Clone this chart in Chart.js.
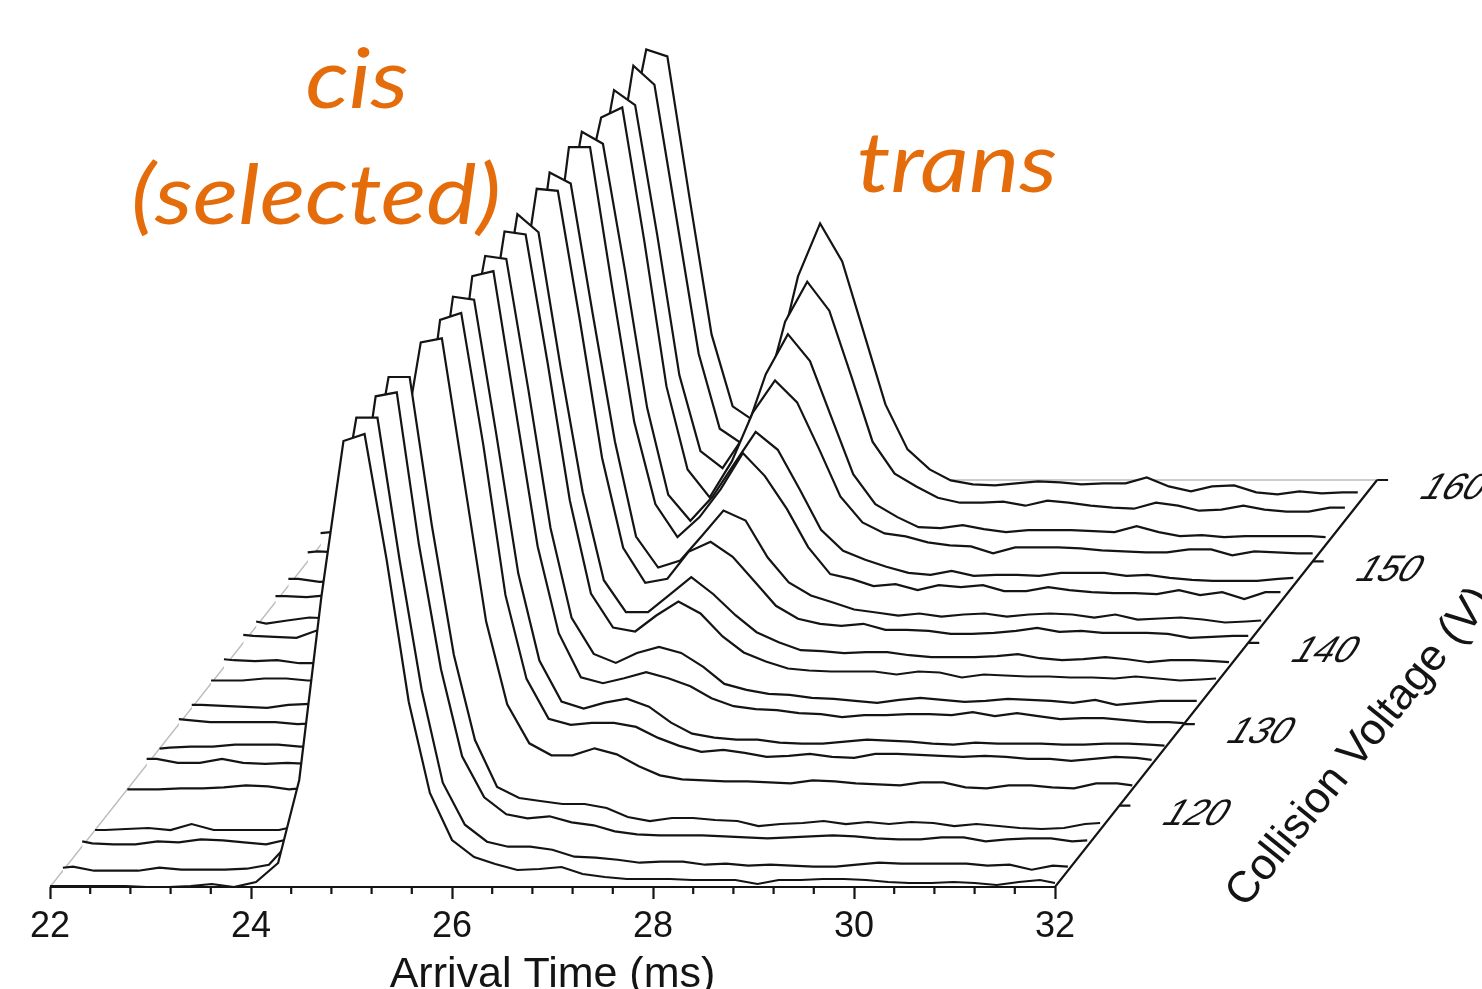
<!DOCTYPE html>
<html>
<head>
<meta charset="utf-8">
<title>Arrival time waterfall</title>
<style>
html,body{margin:0;padding:0;background:#fff;overflow:hidden}
canvas{display:block}
</style>
<script src="https://cdn.jsdelivr.net/npm/chart.js@4/dist/chart.umd.min.js"></script>
</head>
<body>
<canvas id="c" width="1482" height="989"></canvas>
<script>
// Arrival times (ms) of the samples
const arrivalTimes = [22.00,22.10,22.31,22.53,22.75,22.96,23.18,23.40,23.61,23.83,24.05,24.27,24.48,24.70,24.92,25.13,25.35,25.57,25.78,26.00,26.22,26.43,26.65,26.87,27.09,27.30,27.52,27.74,27.95,28.17,28.39,28.60,28.82,29.04,29.25,29.47,29.69,29.90,30.12,30.34,30.55,30.77,30.99,31.20,31.42,31.64,31.85,32.00];
// Collision voltage of each trace, front to back
const collisionVoltages = [110,112,115,117,122,125,127,130,132,135,137,140,142,145,147,150,152,155,157];
// Intensity (a.u.) of each trace
const i110 = [1,1,1,1,1,0,0,1,3,0,5,24,107,290,446,453,327,185,94,47,30,23,17,18,20,13,10,8,8,8,7,7,7,3,7,7,8,8,7,5,4,4,5,4,2,5,7,4];
const i112 = [3,4,0,0,0,3,1,1,1,2,6,30,110,324,453,453,311,181,88,46,29,24,24,21,14,13,11,8,9,9,6,7,5,6,5,4,4,6,8,7,7,7,7,5,6,1,5,4];
const i115 = [5,3,2,2,5,4,7,6,4,2,7,28,110,297,450,454,302,177,90,49,32,28,30,24,21,15,12,11,11,11,10,9,8,9,10,11,10,8,7,7,9,9,5,7,8,8,5,6];
const i117 = [0,0,1,2,0,6,0,0,0,0,5,28,110,327,453,453,305,175,90,43,32,29,26,26,22,13,9,12,12,10,9,4,6,7,9,6,8,6,8,7,4,6,4,2,1,2,6,7];
const i122 = [0,0,0,1,1,2,4,3,0,2,5,28,110,315,447,451,310,168,85,46,34,34,41,35,23,14,10,9,8,8,7,6,9,8,6,5,4,7,7,2,1,4,4,2,1,6,6,4];
const i125 = [6,6,2,2,6,2,1,2,1,2,5,28,110,273,445,452,320,170,86,46,40,42,42,38,27,19,13,15,12,8,9,11,8,7,11,11,10,9,8,9,8,6,6,4,6,8,7,5];
const i127 = [0,1,2,2,4,4,4,2,2,2,5,28,110,294,452,449,315,175,88,47,40,46,50,42,26,15,11,9,9,6,5,5,7,9,8,7,5,4,6,5,5,5,4,4,5,5,4,3];
const i130 = [5,4,2,2,2,2,0,1,2,2,5,28,110,278,448,453,315,178,91,47,41,46,52,46,38,26,18,15,14,11,10,7,9,9,10,10,9,12,8,11,8,5,6,6,4,2,2,1];
const i132 = [3,3,2,1,0,3,4,4,3,2,5,28,110,331,452,449,318,180,90,54,45,55,61,55,41,24,18,14,13,10,9,7,5,8,10,8,6,7,9,8,7,5,8,3,5,7,7,7];
const i135 = [3,3,3,5,5,3,3,2,2,2,5,28,110,309,452,449,320,183,90,56,52,68,82,70,47,31,22,15,13,12,12,12,9,12,11,6,9,8,7,7,6,6,5,7,5,3,4,5];
const i137 = [8,7,6,7,4,4,4,3,2,2,5,28,110,315,453,435,300,175,87,55,55,72,90,73,52,35,25,17,16,14,15,15,12,10,10,10,11,13,9,7,8,10,8,5,7,7,6,5];
const i140 = [8,7,6,5,13,5,4,3,2,2,5,28,110,307,454,452,322,185,95,60,64,91,101,86,61,37,24,19,17,19,13,13,12,9,9,10,12,15,11,12,10,10,10,9,5,6,7,7];
const i142 = [5,3,6,9,8,6,4,3,2,2,5,28,110,291,454,443,312,185,90,59,66,90,116,106,69,44,31,24,17,14,11,13,10,12,13,10,12,13,12,9,12,7,8,9,7,4,5,6];
const i145 = [6,6,5,7,6,5,4,3,2,2,5,28,110,281,455,455,315,180,98,65,85,113,149,126,93,55,28,23,16,18,12,17,15,17,11,11,15,12,10,9,9,8,12,7,10,3,10,10];
const i147 = [7,7,4,5,5,4,4,3,2,2,5,28,110,327,454,442,315,178,91,65,89,121,154,136,96,56,35,26,19,13,11,15,10,11,11,10,13,13,13,10,11,8,6,5,5,5,7,8];
const i150 = [9,10,9,7,6,5,4,3,2,2,5,28,120,344,444,454,320,175,92,64,100,149,181,159,112,65,39,28,25,19,16,15,8,14,14,14,13,11,10,9,9,12,12,6,10,9,8,8];
const i152 = [12,13,11,9,7,6,5,4,3,3,6,30,120,333,455,440,310,170,94,77,110,171,211,184,126,71,41,28,18,17,20,16,13,15,15,15,14,13,19,13,9,10,8,9,9,9,9,8];
const i155 = [10,9,8,7,6,5,4,3,3,3,6,30,120,316,455,436,302,167,92,77,120,199,239,210,144,79,47,34,23,18,18,19,15,20,18,15,13,12,18,15,10,11,15,11,9,9,13,13];
const i157 = [10,9,8,7,6,5,4,3,3,3,6,30,125,345,455,448,307,170,98,83,140,228,281,243,170,100,55,35,24,20,19,21,23,22,20,21,21,27,18,13,18,19,12,10,13,11,12,12];
const intensityRows = [i110,i112,i115,i117,i122,i125,i127,i130,i132,i135,i137,i140,i142,i145,i147,i150,i152,i155,i157];
// Axis ticks
const xMajorTicks = [22,24,26,28,30,32];
const xMinorTicks = [22.4,22.8,23.2,23.6,24.4,24.8,25.2,25.6,26.4,26.8,27.2,27.6,28.4,28.8,29.2,29.6,30.4,30.8,31.2,31.6];
const voltageTicks = [120,130,140,150,160];
const voltageFront = 110, voltageBack = 160;
const xTitle = 'Arrival Time (ms)';
const depthTitle = 'Collision Voltage (V)';

// Oblique projection: each volt moves a trace right and up in data units
const msPerVolt = 0.0641, unitsPerVolt = 8.14;
const xMin = 22 - 50/100.5, xMax = 22 + 1432/100.5;

const datasets = collisionVoltages.map((v, r) => ({
  label: v + ' V',
  data: arrivalTimes.map((t, i) => ({
    x: t + (v - voltageFront) * msPerVolt,
    y: intensityRows[r][i] + (v - voltageFront) * unitsPerVolt
  })),
  borderColor: '#141414',
  borderWidth: 2.2,
  backgroundColor: '#ffffff',
  fill: 'start',
  pointRadius: 0,
  tension: 0,
  borderJoinStyle: 'miter'
}));

const frame = {
  id: 'frame',
  beforeDatasetsDraw(chart) {
    const {ctx, scales: {x, y}} = chart;
    const back = (voltageBack - voltageFront);
    ctx.save();
    ctx.strokeStyle = '#bdbdbd';
    ctx.lineWidth = 1.4;
    ctx.beginPath();
    ctx.moveTo(x.getPixelForValue(22), y.getPixelForValue(0));
    ctx.lineTo(x.getPixelForValue(22 + back * msPerVolt), y.getPixelForValue(back * unitsPerVolt));
    ctx.lineTo(x.getPixelForValue(32 + back * msPerVolt), y.getPixelForValue(back * unitsPerVolt));
    ctx.stroke();
    ctx.restore();
  },
  afterDatasetsDraw(chart) {
    const {ctx, scales: {x, y}} = chart;
    const y0 = y.getPixelForValue(0);
    const back = (voltageBack - voltageFront);
    ctx.save();
    ctx.strokeStyle = '#141414';
    ctx.lineWidth = 2.2;
    ctx.beginPath();
    ctx.moveTo(x.getPixelForValue(22), y0);
    ctx.lineTo(x.getPixelForValue(32), y0);
    ctx.lineTo(x.getPixelForValue(32 + back * msPerVolt), y.getPixelForValue(back * unitsPerVolt));
    ctx.stroke();
    // minor x ticks
    ctx.beginPath();
    xMinorTicks.forEach(t => {
      const px = x.getPixelForValue(t);
      ctx.moveTo(px, y0); ctx.lineTo(px, y0 + 7);
    });
    // depth axis ticks
    voltageTicks.forEach(v => {
      const d = v - voltageFront;
      const px = x.getPixelForValue(32 + d * msPerVolt), py = y.getPixelForValue(d * unitsPerVolt);
      ctx.moveTo(px, py); ctx.lineTo(px + 11, py);
    });
    ctx.stroke();
    // depth axis labels (sheared)
    ctx.fillStyle = '#141414';
    ctx.textAlign = 'center';
    ctx.textBaseline = 'middle';
    ctx.font = '37px "Liberation Sans", Arial, sans-serif';
    voltageTicks.forEach(v => {
      const d = v - voltageFront;
      const px = x.getPixelForValue(32 + d * msPerVolt), py = y.getPixelForValue(d * unitsPerVolt);
      ctx.save();
      ctx.translate(px + 77, py + 9);
      ctx.transform(1, 0, -0.6, 1, 0, 0);
      ctx.fillText(String(v), 0, 0);
      ctx.restore();
    });
    // axis titles
    ctx.font = '43px "Liberation Sans", Arial, sans-serif';
    ctx.textBaseline = 'alphabetic';
    ctx.fillText(xTitle, x.getPixelForValue(27.0), 987);
    ctx.save();
    ctx.translate(1245, 909);
    ctx.rotate(-51 * Math.PI / 180);
    ctx.textAlign = 'left';
    ctx.font = '44px "Liberation Sans", Arial, sans-serif';
    ctx.fillText(depthTitle, 0, 0);
    ctx.restore();
    // species annotations
    ctx.fillStyle = '#E46C0A';
    ctx.font = 'italic 95px Lato, sans-serif';
    ctx.textAlign = 'center';
    [['(selected)', 316, 224], ['trans', 957, 192], ['cis', 357, 108]].forEach(([label, px, py]) => {
      ctx.save();
      ctx.translate(px, py);
      ctx.scale(1, 0.88);
      ctx.fillText(label, 0, 0);
      ctx.restore();
    });
    ctx.restore();
  }
};

new Chart(document.getElementById('c'), {
  type: 'line',
  data: { datasets },
  plugins: [frame],
  options: {
    responsive: false,
    animation: false,
    events: [],
    layout: { padding: 0, autoPadding: false },
    plugins: { legend: { display: false }, tooltip: { enabled: false } },
    scales: {
      x: {
        type: 'linear',
        position: 'bottom',
        min: xMin,
        max: xMax,
        afterFit(s) { s.height = 102; },
        afterBuildTicks(s) { s.ticks = xMajorTicks.map(value => ({ value })); },
        border: { display: false },
        grid: { drawOnChartArea: false, drawTicks: true, tickLength: 12, tickWidth: 2.2, tickColor: '#141414' },
        ticks: {
          autoSkip: false, maxRotation: 0, minRotation: 0, padding: 6,
          color: '#141414',
          font: { family: '"Liberation Sans", Arial, sans-serif', size: 36 },
          callback: v => String(v)
        }
      },
      y: { type: 'linear', display: false, min: 0, max: 887 }
    }
  }
});
</script>
</body>
</html>
